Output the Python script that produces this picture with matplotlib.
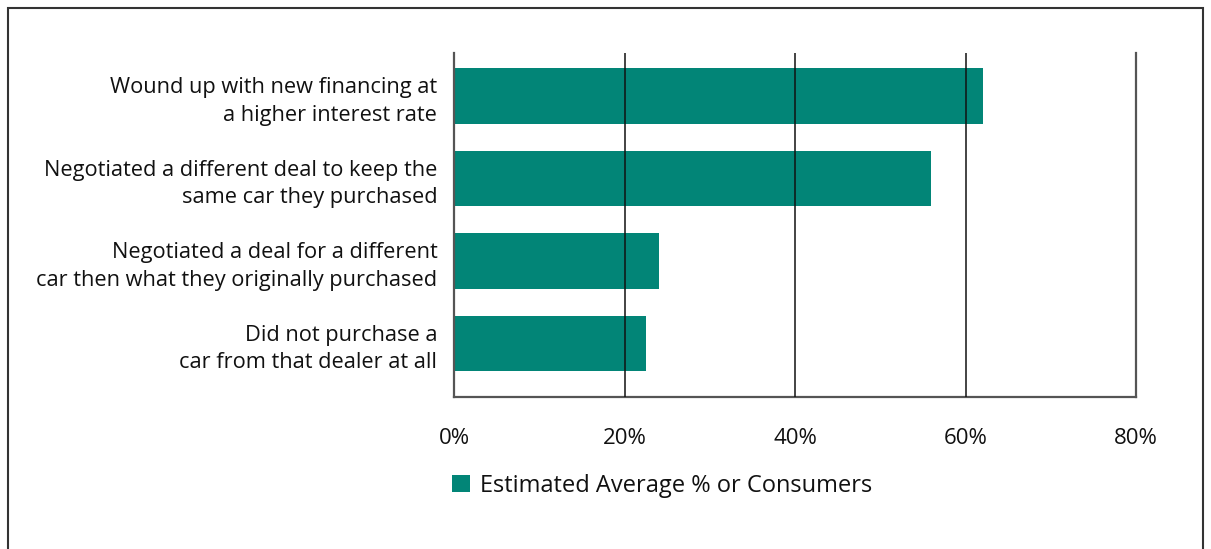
import matplotlib
matplotlib.use("Agg")
import matplotlib.pyplot as plt
from matplotlib.patches import Rectangle
from matplotlib.ticker import FuncFormatter

categories = [
    "Wound up with new financing at\na higher interest rate",
    "Negotiated a different deal to keep the\nsame car they purchased",
    "Negotiated a deal for a different\ncar then what they originally purchased",
    "Did not purchase a\ncar from that dealer at all",
]
values = [62, 56, 24, 22.5]
series_name = "Estimated Average % or Consumers"
x_ticks = [0, 20, 40, 60, 80]

TEAL = "#028577"
W, H = 1211, 549
plt.rcParams["font.family"] = ["Open Sans", "DejaVu Sans"]

fig = plt.figure(figsize=(W / 100, H / 100), dpi=100)
fig.patch.set_facecolor("white")

# plot area in pixel coordinates
left, right, top, bottom = 454, 1136, 53, 397
ax = fig.add_axes([left / W, 1 - bottom / H, (right - left) / W, (bottom - top) / H])

pos = list(range(len(categories)))
bars = ax.barh(pos, values, height=0.67, color=TEAL, zorder=2, label=series_name)

ax.set_xlim(0, 80)
ax.set_ylim(3.65, -0.52)
ax.set_xticks(x_ticks)
ax.xaxis.set_major_formatter(FuncFormatter(lambda v, p: f"{v:.0f}%"))
ax.set_yticks(pos)
ax.set_yticklabels(categories, fontsize=15.7, linespacing=1.4, color="#111111")
ax.tick_params(axis="y", length=0, pad=12)
ax.tick_params(axis="x", length=0, pad=22, labelsize=16, labelcolor="#111111")

for gx in x_ticks[1:-1]:
    ax.axvline(gx, color="#111111", lw=1.1, zorder=3)

ax.spines["top"].set_visible(False)
for s in ("left", "bottom", "right"):
    ax.spines[s].set_color("#555555")
    ax.spines[s].set_linewidth(1.6)
ax.spines["left"].set_zorder(4)

fig.legend(handles=[bars], labels=[series_name], loc="center left",
           bbox_to_anchor=(452 / W, 1 - 486 / H), frameon=False,
           fontsize=17, handlelength=0.75, handleheight=0.75,
           handletextpad=0.45, borderpad=0, borderaxespad=0,
           labelcolor="#111111")

# outer frame
fig.add_artist(Rectangle((7.5 / W, -0.05), (1203 - 7.5) / W, 1.05 - 7.5 / H,
                         transform=fig.transFigure, fill=False,
                         edgecolor="#333333", lw=1.5))

fig.savefig("out.png", dpi=100, facecolor="white")
